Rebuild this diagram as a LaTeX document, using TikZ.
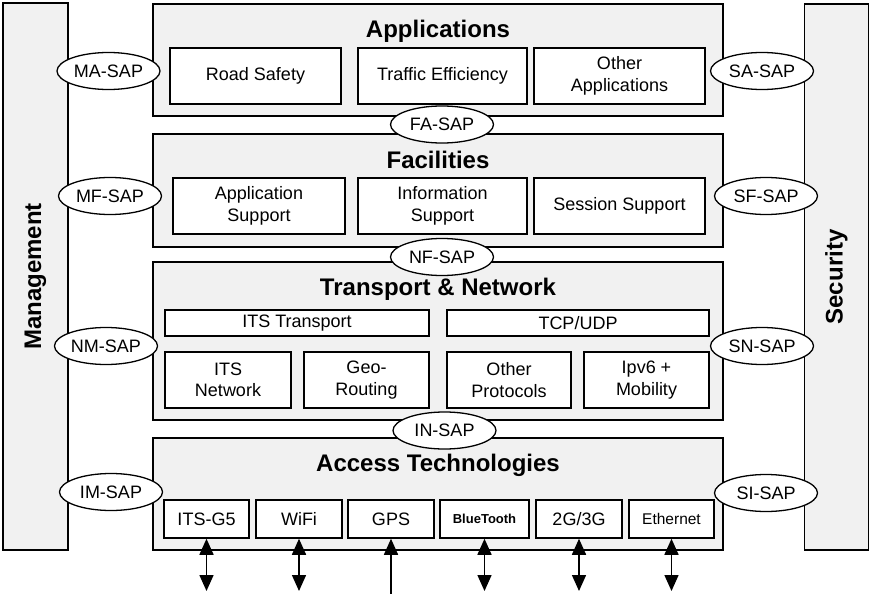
\documentclass[tikz,border=0pt]{standalone}
\usepackage{fontspec}
\setmainfont{Liberation Sans}
\usetikzlibrary{arrows.meta, shapes.geometric, positioning}
\definecolor{layerfill}{RGB}{241,241,241}

\begin{document}
\begin{tikzpicture}[x=1pt, y=-1pt, line width=1.5pt, >={Triangle[width=14pt,length=16pt]},
	layer/.style={draw, fill=layerfill, inner sep=0},
	box/.style={draw, fill=white, align=center, inner sep=0, font=\fontsize{18}{21.5}\selectfont},
	sap/.style={draw, ellipse, fill=white, line width=1.3pt, minimum width=103pt, minimum height=37pt, inner sep=0, font=\fontsize{18}{21.5}\selectfont},
	title/.style={font=\bfseries\fontsize{24}{28}\selectfont}]
		\useasboundingbox (0,0) rectangle (870,594);
		\node[layer, minimum width=65pt, minimum height=547pt] (mgmt) at (35.5,276.5) {}; \node[title, rotate=90] (mgmttitle) at (mgmt) {Management};
		\node[layer, minimum width=64pt, minimum height=546pt] (sec) at (836.5,277) {}; \node[title, rotate=90] (sectitle) at (sec) {Security};

		\node[layer, minimum width=570pt, minimum height=112pt] (app) at (438,60) {}; \node[title, anchor=base] (apptitle) at (438,38) {Applications};
		\node[box, minimum width=171pt, minimum height=56pt] (road) at (255.5,76) {Road Safety};
		\node[box, minimum width=169pt, minimum height=56pt] (traffic) at (442.5,76) {Traffic Efficiency};
		\node[box, minimum width=171pt, minimum height=56pt] (otherapp) at (619.5,76) {Other\\Applications};

		\node[layer, minimum width=570pt, minimum height=113pt] (fac) at (438,190.5) {}; \node[title, anchor=base] (factitle) at (438,168) {Facilities};
		\node[box, minimum width=172pt, minimum height=56pt] (appsup) at (259,206) {Application\\Support};
		\node[box, minimum width=169pt, minimum height=56pt] (infosup) at (442.5,206) {Information\\Support};
		\node[box, minimum width=171pt, minimum height=56pt] (sesssup) at (619.5,206) {Session Support};

		\node[layer, minimum width=570pt, minimum height=158pt] (tn) at (438,341) {}; \node[title, anchor=base] (tntitle) at (438,295) {Transport \& Network};
		\node[box, minimum width=264pt, minimum height=26pt] (itstrans) at (297,323) {ITS Transport};
		\node[box, minimum width=262pt, minimum height=26pt] (tcpudp) at (578,323) {TCP/UDP};
		\node[box, minimum width=126pt, minimum height=56pt] (itsnet) at (228,380) {ITS\\Network};
		\node[box, minimum width=125pt, minimum height=56pt] (georout) at (366.5,380) {Geo-\\Routing};
		\node[box, minimum width=124pt, minimum height=56pt] (otherprot) at (509,380) {Other\\Protocols};
		\node[box, minimum width=125pt, minimum height=56pt] (ipvsix) at (646.5,380) {Ipv6 +\\Mobility};

		\node[layer, minimum width=570pt, minimum height=112pt] (acc) at (438,494) {}; \node[title, anchor=base] (acctitle) at (438,471) {Access Technologies};
		\node[box, minimum width=85pt, minimum height=38pt] (gfive) at (206.5,519) {ITS-G5};
		\node[box, minimum width=86pt, minimum height=38pt] (wifi) at (299,519) {WiFi};
		\node[box, minimum width=86pt, minimum height=38pt] (gps) at (391,519) {GPS};
		\node[box, minimum width=89pt, minimum height=38pt, font=\bfseries\fontsize{13}{15}\selectfont] (btooth) at (484.5,519) {BlueTooth};
		\node[box, minimum width=86pt, minimum height=38pt] (cell) at (579,519) {2G/3G};
		\node[box, minimum width=85pt, minimum height=38pt, font=\fontsize{15.5}{18}\selectfont] (ether) at (671.5,519) {Ethernet};

		\coordinate (tipline) at (0,591); \coordinate (edge) at (0,594);
		\foreach \n in {gfive,wifi,btooth,cell,ether} \draw[<->] (\n.south) -- (\n.south |- tipline);
		\draw[<-] (gps.south) -- (gps.south |- edge);

		\node[sap] (masap) at (108.5,71) {MA-SAP}; \node[sap] (mfsap) at (110,196) {MF-SAP}; \node[sap] (nmsap) at (106,346) {NM-SAP}; \node[sap] (imsap) at (111,492) {IM-SAP};
		\node[sap] (sasap) at (762,71) {SA-SAP}; \node[sap] (sfsap) at (766,196) {SF-SAP}; \node[sap] (snsap) at (762,346) {SN-SAP}; \node[sap] (sisap) at (766,493) {SI-SAP};
		\node[sap] (fasap) at (442,124.5) {FA-SAP}; \node[sap] (nfsap) at (442,257) {NF-SAP}; \node[sap] (insap) at (444.5,430.5) {IN-SAP};
	\end{tikzpicture}
\end{document}
